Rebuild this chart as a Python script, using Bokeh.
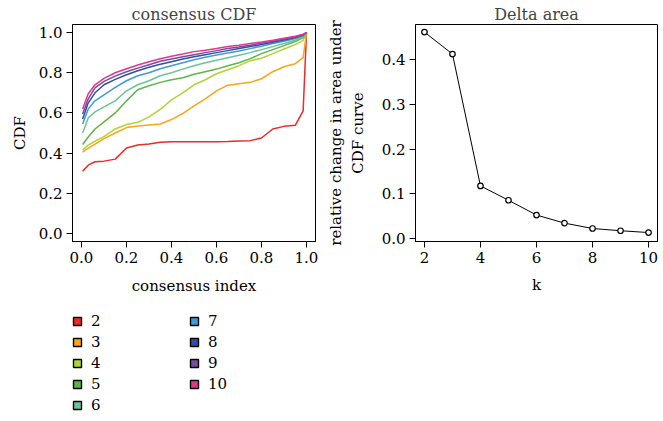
from bokeh.plotting import figure
from bokeh.models import Range1d, FixedTicker, PrintfTickFormatter, Legend, LegendItem
from bokeh.layouts import row, column
from bokeh.embed import file_html
from bokeh.resources import INLINE

# ---------------- data ----------------
cdf_x = [0.005, 0.03, 0.06, 0.1, 0.15, 0.2, 0.25, 0.3, 0.35, 0.4, 0.45, 0.5,
         0.55, 0.6, 0.65, 0.7, 0.75, 0.8, 0.85, 0.9, 0.95, 0.985, 1.0]
cdf_k2 = [0.31, 0.34, 0.357, 0.36, 0.37, 0.425, 0.44, 0.445, 0.454, 0.456, 0.456, 0.456,
          0.456, 0.457, 0.458, 0.46, 0.462, 0.475, 0.52, 0.533, 0.538, 0.61, 1.0]
cdf_k3 = [0.405, 0.425, 0.445, 0.472, 0.50, 0.527, 0.535, 0.54, 0.545, 0.567, 0.597, 0.635,
          0.67, 0.71, 0.738, 0.745, 0.752, 0.77, 0.805, 0.83, 0.845, 0.875, 1.0]
cdf_k4 = [0.415, 0.44, 0.459, 0.482, 0.52, 0.542, 0.553, 0.58, 0.617, 0.665, 0.70, 0.74,
          0.765, 0.795, 0.815, 0.835, 0.86, 0.872, 0.895, 0.918, 0.94, 0.96, 1.0]
cdf_k5 = [0.443, 0.48, 0.52, 0.555, 0.60, 0.66, 0.715, 0.735, 0.752, 0.765, 0.775, 0.792,
          0.805, 0.818, 0.835, 0.85, 0.87, 0.895, 0.915, 0.935, 0.955, 0.975, 1.0]
cdf_k6 = [0.50, 0.575, 0.605, 0.63, 0.66, 0.71, 0.74, 0.76, 0.785, 0.80, 0.818, 0.835,
          0.85, 0.862, 0.875, 0.887, 0.90, 0.915, 0.93, 0.945, 0.962, 0.98, 1.0]
cdf_k7 = [0.545, 0.62, 0.66, 0.69, 0.727, 0.76, 0.785, 0.80, 0.82, 0.835, 0.85, 0.865,
          0.877, 0.888, 0.898, 0.908, 0.92, 0.932, 0.945, 0.957, 0.97, 0.985, 1.0]
cdf_k8 = [0.57, 0.65, 0.70, 0.74, 0.767, 0.79, 0.81, 0.827, 0.842, 0.855, 0.868, 0.88,
          0.89, 0.90, 0.91, 0.92, 0.93, 0.94, 0.952, 0.963, 0.975, 0.988, 1.0]
cdf_k9 = [0.595, 0.67, 0.725, 0.757, 0.783, 0.805, 0.823, 0.84, 0.857, 0.868, 0.88, 0.89,
          0.90, 0.91, 0.92, 0.928, 0.937, 0.947, 0.957, 0.968, 0.978, 0.99, 1.0]
cdf_k10 = [0.62, 0.695, 0.74, 0.772, 0.80, 0.82, 0.838, 0.855, 0.87, 0.882, 0.893, 0.905,
           0.912, 0.92, 0.93, 0.937, 0.945, 0.953, 0.962, 0.972, 0.982, 0.992, 1.0]

k_labels = ["2", "3", "4", "5", "6", "7", "8", "9", "10"]
cdf_series = [cdf_k2, cdf_k3, cdf_k4, cdf_k5, cdf_k6, cdf_k7, cdf_k8, cdf_k9, cdf_k10]
k_colors = ["#EE2A24", "#F9A51B", "#B2D235", "#5DB547", "#6CC39B",
            "#3F9BD7", "#2F4F9F", "#7A4B9F", "#E3378F"]

delta_k = [2, 3, 4, 5, 6, 7, 8, 9, 10]
delta_area = [0.461, 0.412, 0.118, 0.086, 0.053, 0.035, 0.023, 0.018, 0.014]

x_ticks_cdf = [0.0, 0.2, 0.4, 0.6, 0.8, 1.0]
y_ticks_cdf = [0.0, 0.2, 0.4, 0.6, 0.8, 1.0]
x_ticks_delta = [2, 4, 6, 8, 10]
y_ticks_delta = [0.0, 0.1, 0.2, 0.3, 0.4]

FONT = "DejaVu Serif"
FS = "15px"


def style(p):
    p.grid.visible = False
    p.outline_line_color = "black"
    p.outline_line_width = 1
    p.background_fill_color = "white"
    p.border_fill_color = "white"
    p.title.text_font = FONT
    p.title.text_font_size = "16px"
    p.title.text_font_style = "normal"
    p.title.align = "center"
    p.title.standoff = 2
    p.title.offset = 0
    for ax in (p.xaxis[0], p.yaxis[0]):
        ax.axis_line_color = "black"
        ax.major_tick_line_color = "black"
        ax.major_tick_out = 6
        ax.major_tick_in = 0
        ax.minor_tick_line_color = None
        ax.major_label_text_font = FONT
        ax.major_label_text_font_size = FS
        ax.major_label_text_color = "black"
        ax.axis_label_text_font = FONT
        ax.axis_label_text_font_size = FS
        ax.axis_label_text_font_style = "normal"
        ax.axis_label_text_color = "black"
        ax.major_label_standoff = 4


LEFT_W = 324

# ---------------- left: consensus CDF ----------------
p1 = figure(width=LEFT_W, height=300, x_range=Range1d(-0.04, 1.04), y_range=Range1d(-0.04, 1.04),
            output_backend="svg", toolbar_location=None, title="consensus CDF",
            min_border_left=72, min_border_right=9, min_border_top=24, min_border_bottom=59)
style(p1)
for ys, c in zip(cdf_series, k_colors):
    p1.line(cdf_x, ys, line_color=c, line_width=1.5)
p1.xaxis.ticker = FixedTicker(ticks=x_ticks_cdf)
p1.yaxis.ticker = FixedTicker(ticks=y_ticks_cdf)
p1.xaxis.formatter = PrintfTickFormatter(format="%.1f")
p1.yaxis.formatter = PrintfTickFormatter(format="%.1f")
p1.xaxis.axis_label = "consensus index"
p1.yaxis.axis_label = "CDF"
p1.xaxis.axis_label_standoff = 11
p1.yaxis.axis_label_standoff = 7

# ---------------- legend panel ----------------
p3 = figure(width=LEFT_W, height=121, x_range=Range1d(0, 1), y_range=Range1d(0, 1),
            output_backend="svg", toolbar_location=None,
            min_border_left=72, min_border_right=9, min_border_top=0, min_border_bottom=0)
p3.axis.visible = False
p3.grid.visible = False
p3.outline_line_color = None
items = []
nan = float("nan")
for lab, c in zip(k_labels, k_colors):
    r = p3.scatter(x=[nan], y=[nan], marker="square", fill_color=c, line_color="black",
                   line_width=1.4)
    items.append(LegendItem(label=lab, renderers=[r]))


def make_legend(its, loc):
    lg = Legend(items=its, location=loc, orientation="vertical",
                glyph_width=20, glyph_height=20, label_height=20, spacing=1,
                label_standoff=4, padding=0, margin=0,
                border_line_color=None, background_fill_alpha=0,
                label_text_font=FONT, label_text_font_size=FS, label_text_color="black")
    return lg


p3.add_layout(make_legend(items[:5], (-5, 6)), "center")
p3.add_layout(make_legend(items[5:], (112, 27)), "center")

# ---------------- right: Delta area ----------------
p2 = figure(width=663 - LEFT_W, height=300, x_range=Range1d(1.68, 10.32),
            y_range=Range1d(-0.006, 0.478),
            output_backend="svg", toolbar_location=None, title="Delta area",
            min_border_left=91, min_border_right=6, min_border_top=24, min_border_bottom=59)
style(p2)
p2.line(delta_k, delta_area, line_color="black", line_width=1)
p2.scatter(delta_k, delta_area, marker="circle", size=5.5, fill_color="white",
           line_color="black", line_width=1.2)
p2.xaxis.ticker = FixedTicker(ticks=x_ticks_delta)
p2.yaxis.ticker = FixedTicker(ticks=y_ticks_delta)
p2.yaxis.formatter = PrintfTickFormatter(format="%.1f")
p2.xaxis.axis_label = "k"
p2.yaxis.axis_label = "relative change in area under\nCDF curve"
p2.xaxis.axis_label_standoff = 10
p2.yaxis.axis_label_standoff = 12

layout = row(column(p1, p3), p2)
open("out.html", "w").write(file_html(layout, INLINE))
